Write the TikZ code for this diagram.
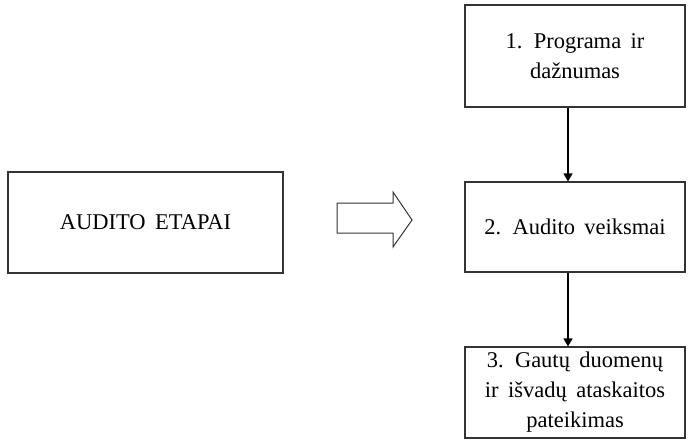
\documentclass[tikz,border=0pt]{standalone}
\usepackage{fontspec}
\setmainfont{Liberation Serif}
\usetikzlibrary{calc, positioning}
\usetikzlibrary{arrows.meta}
\newcommand{\stagefont}{\fontsize{22.5}{30}\selectfont\spaceskip=0.42em\relax}

\begin{document}
\begin{tikzpicture}[x=1pt,y=-1pt,
  stagebox/.style={draw=black!80,line width=1.1pt,align=center,
    font=\stagefont,inner sep=0pt,minimum width=220pt},
  flowarrow/.style={draw=black,line width=1.1pt,-{Triangle[length=8pt,width=9pt]}}]
\useasboundingbox (0,0) rectangle (688,447);
\def\colx{575}

\node[stagebox,minimum width=275pt,minimum height=101pt] (etapai) at (145.5,222.5)
  {AUDITO ETAPAI};

\node[stagebox,minimum height=102pt] (programa) at (\colx,56)
  {1. Programa ir\\dažnumas};
\node[stagebox,minimum height=90pt] (veiksmai) at (\colx,227)
  {2. Audito veiksmai};
\node[stagebox,minimum height=91pt] (ataskaita) at (\colx,392.5)
  {3. Gautų duomenų\\ir išvadų ataskaitos\\pateikimas};

\coordinate (arrowtail) at (337,218);
\draw[black!80,line width=1pt]
  (arrowtail) ++(0,-15) -- ++(56,0) -- ++(0,-11) -- (412,220)
  -- (393,247) -- ++(0,-14) -- ++(-56,0) -- cycle;

\draw[flowarrow] ([xshift=-7pt]programa.south) -- ([xshift=-7pt]veiksmai.north);
\draw[flowarrow] ([xshift=-7pt]veiksmai.south) -- ([xshift=-7pt]ataskaita.north);
\end{tikzpicture}
\end{document}
